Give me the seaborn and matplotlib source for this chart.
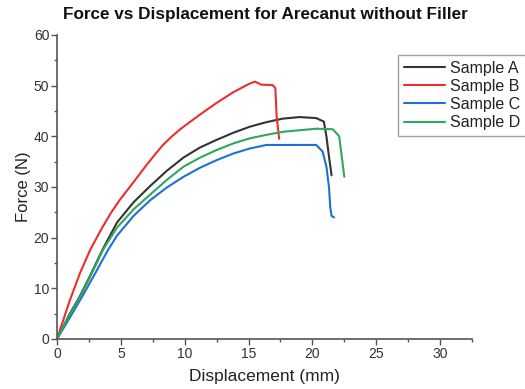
import matplotlib
matplotlib.use("Agg")
import matplotlib.pyplot as plt
import seaborn as sns
import pandas as pd
from matplotlib.ticker import MultipleLocator
from matplotlib.lines import Line2D

sns.set_style("ticks")
plt.rcParams['font.family'] = ['Liberation Sans', 'DejaVu Sans']

a_x = [0, 1, 1.7, 2.5, 3.6, 4.7, 6, 7.3, 8.6, 9.9, 11.2, 12.5, 13.8, 15.1, 16.4, 17.7, 19, 20.3, 20.9, 21.1, 21.3, 21.5]
a_y = [0, 5, 8, 12, 17.8, 23, 27, 30.2, 33.2, 35.8, 37.8, 39.3, 40.7, 41.9, 42.8, 43.5, 43.8, 43.6, 42.9, 40, 36, 32.3]

b_x = [0, 1, 1.8, 2.6, 3.5, 4.2, 4.9, 5.7, 6.4, 7, 7.7, 8.3, 9, 9.7, 10.5, 11.2, 12.5, 13.8, 15, 15.5, 16, 16.9, 17.1, 17.2, 17.4]
b_y = [0, 7.6, 13, 17.6, 21.8, 24.8, 27.4, 30, 32.3, 34.3, 36.5, 38.3, 40, 41.5, 43, 44.3, 46.6, 48.7, 50.3, 50.8, 50.2, 50.1, 49.5, 44, 39.5]

c_x = [0, 1, 2, 3, 4, 4.7, 6, 7.3, 8.6, 9.9, 11.2, 12.5, 13.8, 15.1, 16.4, 18, 20.3, 20.8, 21.1, 21.3, 21.4, 21.5, 21.7]
c_y = [0, 4.2, 8.5, 13, 17.6, 20.4, 24.3, 27.4, 29.9, 32, 33.8, 35.3, 36.6, 37.6, 38.3, 38.3, 38.3, 37, 34, 30, 26, 24.3, 24]

d_x = [0, 1, 1.7, 2.5, 3.6, 4.7, 6, 6.8, 8.6, 9.9, 11.2, 12.5, 13.8, 15.1, 16.4, 17.7, 19, 20.3, 21.6, 22.1, 22.3, 22.5]
d_y = [0, 4.8, 7.8, 11.8, 17.6, 22, 25.6, 27.4, 31.4, 34, 35.8, 37.3, 38.6, 39.6, 40.3, 40.9, 41.2, 41.5, 41.4, 40, 36, 32]

names = ["Sample A", "Sample B", "Sample C", "Sample D"]
colors = ["#333333", "#e8302f", "#1f6fd9", "#2ea85a"]

frames = []
for n, xs, ys in zip(names, [a_x, b_x, c_x, d_x], [a_y, b_y, c_y, d_y]):
    frames.append(pd.DataFrame({"x": xs, "y": ys, "sample": n}))
df = pd.concat(frames, ignore_index=True)

fig = plt.figure(figsize=(5.25, 3.89), dpi=100)
ax = fig.add_axes([57/525, 1-339/389, (472-57)/525, (339-35)/389])

sns.lineplot(data=df, x="x", y="y", hue="sample", palette=colors, sort=False,
             estimator=None, ax=ax, linewidth=1.5, legend=False)

ax.set_xlim(0, 32.5)
ax.set_ylim(0, 60)
ax.xaxis.set_major_locator(MultipleLocator(5))
ax.xaxis.set_minor_locator(MultipleLocator(2.5))
ax.yaxis.set_major_locator(MultipleLocator(10))
ax.yaxis.set_minor_locator(MultipleLocator(5))
ax.tick_params(which="major", direction="out", length=4, width=1, color="#555555",
               labelsize=10, pad=1.5, labelcolor="#333333")
ax.tick_params(which="minor", direction="out", length=2, width=1, color="#555555")
for s in ["top", "right"]:
    ax.spines[s].set_visible(False)
for s in ["left", "bottom"]:
    ax.spines[s].set_color("#555555")
    ax.spines[s].set_linewidth(1.2)

ax.set_xlabel("Displacement (mm)", fontsize=12.5, labelpad=6, color="#222222")
ax.set_ylabel("Force (N)", fontsize=12, labelpad=2, color="#222222")
fig.text(265/525, 1-15/389, "Force vs Displacement for Arecanut without Filler",
         ha="center", va="center", fontsize=12.3, fontweight="bold", color="#111111")

handles = [Line2D([0], [0], color=c, lw=1.5) for c in colors]
leg = fig.legend(handles, names, loc="upper left", bbox_to_anchor=(398/525, 1-55/389),
                 fontsize=11.5, frameon=True, fancybox=False, handlelength=2.6,
                 handletextpad=0.3, labelspacing=0.2, borderpad=0.35, borderaxespad=0)
leg.get_frame().set_edgecolor("#888888")
leg.get_frame().set_linewidth(1)
for t in leg.get_texts():
    t.set_color("#222222")

fig.savefig("out.png", dpi=100)
